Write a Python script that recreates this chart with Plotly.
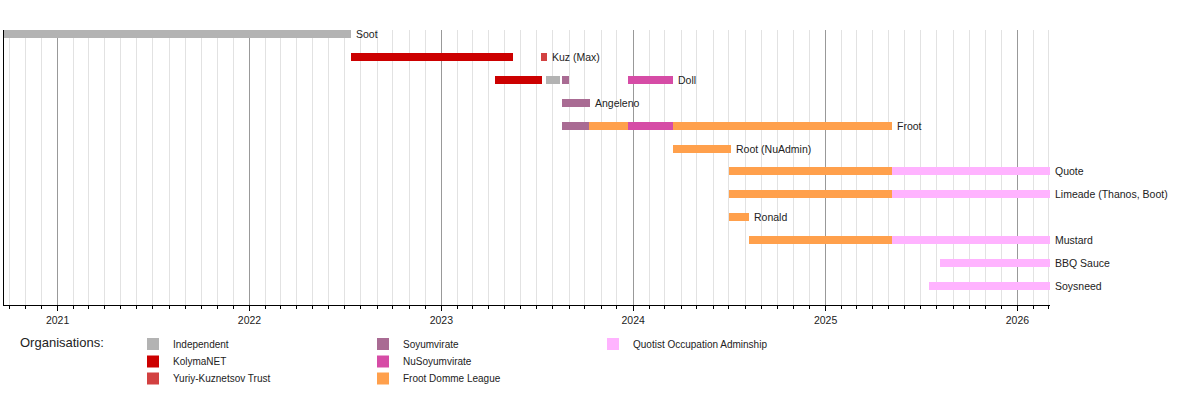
import plotly.graph_objects as go
import pandas as pd

# ---- data ----
rows = ["Soot", "Kuz (Max)", "Doll", "Angeleno", "Froot", "Root (NuAdmin)",
        "Quote", "Limeade (Thanos, Boot)", "Ronald", "Mustard", "BBQ Sauce", "Soysneed"]

orgs = ["Independent", "KolymaNET", "Yuriy-Kuznetsov Trust",
        "Soyumvirate", "NuSoyumvirate", "Froot Domme League",
        "Quotist Occupation Adminship"]
org_colors = ["#b3b3b3", "#cc0000", "#d24141", "#a96b93", "#d64ca6", "#ffa04c", "#ffb3ff"]

range_start = "2020-09-21"
range_end = "2026-03-04"

# (row, start, end) per organisation
segments = {
    "Independent": [("Soot", "2020-09-21", "2022-07-14"),
                    ("Doll", "2023-07-20", "2023-08-14")],
    "KolymaNET": [("Kuz (Max)", "2022-07-14", "2023-05-18"),
                  ("Doll", "2023-04-14", "2023-07-12")],
    "Yuriy-Kuznetsov Trust": [("Kuz (Max)", "2023-07-10", "2023-07-21")],
    "Soyumvirate": [("Doll", "2023-08-19", "2023-09-01"),
                    ("Angeleno", "2023-08-19", "2023-10-10"),
                    ("Froot", "2023-08-19", "2023-10-08")],
    "NuSoyumvirate": [("Doll", "2023-12-23", "2024-03-16"),
                      ("Froot", "2023-12-23", "2024-03-16")],
    "Froot Domme League": [("Froot", "2023-10-08", "2023-12-23"),
                           ("Froot", "2024-03-16", "2025-05-08"),
                           ("Root (NuAdmin)", "2024-03-16", "2024-07-06"),
                           ("Quote", "2024-07-01", "2025-05-07"),
                           ("Limeade (Thanos, Boot)", "2024-07-01", "2025-05-07"),
                           ("Ronald", "2024-07-01", "2024-08-08"),
                           ("Mustard", "2024-08-08", "2025-05-07")],
    "Quotist Occupation Adminship": [("Quote", "2025-05-07", "2026-03-04"),
                                     ("Limeade (Thanos, Boot)", "2025-05-07", "2026-03-04"),
                                     ("Mustard", "2025-05-07", "2026-03-04"),
                                     ("BBQ Sauce", "2025-08-06", "2026-03-04"),
                                     ("Soysneed", "2025-07-17", "2026-03-04")],
}

FONT = "Liberation Sans, Arial, sans-serif"
fig = go.Figure()

# legend layout: 3 columns, up to 3 entries per column
LEG_COL_X = [133, 363, 593]     # px, legend box left
LEG_ROW_TOP = [329.5, 347, 364]  # px, legend box top

def px_x(px):
    return (px - 4) / 1046

def px_y(px):
    return (305 - px) / 275

row_end = {}
legend_layouts = {}
for i, (org, color) in enumerate(zip(orgs, org_colors)):
    col, rw = divmod(i, 3)
    leg_name = "legend" if i == 0 else f"legend{i + 1}"
    legend_layouts[leg_name] = dict(
        x=px_x(LEG_COL_X[col]), y=px_y(LEG_ROW_TOP[rw]),
        xanchor="left", yanchor="top",
        font=dict(family=FONT, size=10, color="#222"),
        bgcolor="rgba(0,0,0,0)", itemwidth=30,
    )
    segs = segments[org]
    ys, bases, durs = [], [], []
    for r, s, e in segs:
        ts, te = pd.Timestamp(s), pd.Timestamp(e)
        ys.append(rows.index(r))
        bases.append(s)
        durs.append((te - ts).total_seconds() * 1000)
        if r not in row_end or te > row_end[r]:
            row_end[r] = te
    fig.add_trace(go.Bar(
        y=ys, x=durs, base=bases, orientation="h", width=0.35,
        marker=dict(color=color, line=dict(width=0)),
        name=org, legend=leg_name, hoverinfo="skip", showlegend=True,
    ))

for r in rows:
    fig.add_annotation(x=row_end[r], y=rows.index(r), text=r, showarrow=False,
                       xanchor="left", yanchor="middle", xshift=3,
                       font=dict(family=FONT, size=10.5, color="#222"))

fig.add_annotation(xref="paper", yref="paper", x=px_x(18), y=px_y(342),
                   text="Organisations:", showarrow=False, xanchor="left", yanchor="middle",
                   font=dict(family=FONT, size=13, color="#222"))

fig.update_layout(
    width=1200, height=395,
    margin=dict(l=4, r=150, t=30, b=90, autoexpand=False),
    paper_bgcolor="white", plot_bgcolor="white",
    barmode="overlay",
    bargap=0,
    font=dict(family=FONT, size=11, color="#222"),
    xaxis=dict(
        type="date", range=[range_start, range_end],
        tick0="2021-01-01", dtick="M12", tickformat="%Y",
        showgrid=True, gridcolor="#999999", gridwidth=1,
        ticks="outside", ticklen=5, tickcolor="black", tickwidth=1,
        showline=True, linecolor="black", linewidth=1,
        tickfont=dict(family=FONT, size=10.5, color="#222"),
        minor=dict(dtick="M1", tick0="2021-01-01", showgrid=True, gridcolor="#e2e2e2",
                   ticks="outside", ticklen=3, tickcolor="black", tickwidth=1),
        zeroline=False, fixedrange=True,
    ),
    yaxis=dict(
        range=[11.83, -0.175], showticklabels=False, showgrid=False,
        zeroline=False, showline=True, linecolor="black", linewidth=1,
        ticks="", fixedrange=True,
    ),
    **legend_layouts,
)

fig.write_html("out.html", post_script="document.body.style.margin='0';",
               config={"displayModeBar": False, "staticPlot": True})
